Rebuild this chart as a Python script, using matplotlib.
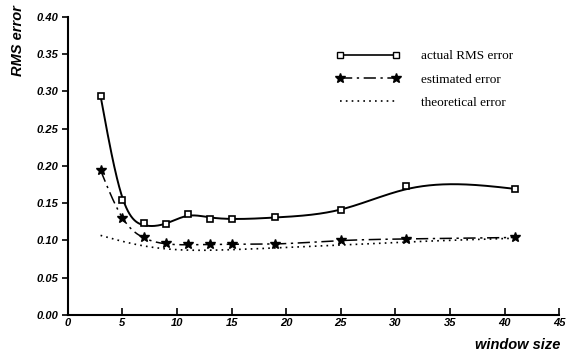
import numpy as np
import matplotlib.pyplot as plt

# window sizes and error values
window = [3, 5, 7, 9, 11, 13, 15, 19, 25, 31, 41]
actual_rms = [0.294, 0.154, 0.124, 0.122, 0.135, 0.129, 0.129, 0.131, 0.141, 0.173, 0.169]
estimated = [0.194, 0.130, 0.104, 0.096, 0.095, 0.095, 0.095, 0.095, 0.100, 0.102, 0.104]
theoretical = [0.108, 0.098, 0.092, 0.0885, 0.087, 0.087, 0.088, 0.090, 0.094, 0.098, 0.103]


def smooth_curve(x, y, lam, w=None, step=0.05):
    # weighted penalised least squares on a fine grid (discrete smoothing spline)
    xs = np.arange(x[0], x[-1] + step / 2, step)
    n = len(xs)
    w = np.ones(len(x)) if w is None else np.asarray(w, float)
    A = np.zeros((len(x), n))
    for i, xi in enumerate(x):
        A[i, int(round((xi - x[0]) / step))] = 1.0
    D = np.diff(np.eye(n), 2, axis=0) / step**2
    M = A.T @ (w[:, None] * A) + lam * step * D.T @ D
    f = np.linalg.solve(M, A.T @ (w * np.asarray(y, float)))
    return xs, f


fig = plt.figure(figsize=(5.7, 3.54), dpi=100)
ax = fig.add_axes([0.119, 0.110, 0.862, 0.843])

tick_font = dict(family='Liberation Sans', weight='bold', style='italic', size=8)
dashdot = (0, (8, 3, 1.5, 3))
dotted = (0, (1, 2.5))

w_actual = [100, 30, 12, 12, 12, 6, 6, 4, 3, 0.3, 6]
w_front = [200, 50, 10, 2, 1, 1, 1, 1, 1, 1, 1]
ax.plot(*smooth_curve(window, actual_rms, 3, w_actual), color='black', lw=1.4)
ax.plot(window, actual_rms, ls='none', marker='s', ms=5, mfc='white', mec='black', mew=1.2)
ax.plot(*smooth_curve(window, estimated, 2, w_front), color='black', lw=1.1, ls=dashdot)
ax.plot(window, estimated, ls='none', marker='*', ms=7.5, color='black')
ax.plot(*smooth_curve(window, theoretical, 5), color='black', lw=1.2, ls=dotted)

# legend entries
h1, = ax.plot([], [], color='black', lw=1.2, marker='s', ms=5, mfc='white', mec='black')
h2, = ax.plot([], [], color='black', lw=1.1, ls=dashdot, marker='*', ms=7.5)
h3, = ax.plot([], [], color='black', lw=1.2, ls=dotted)
ax.legend([h1, h2, h3], ['actual RMS error', 'estimated error', 'theoretical error'],
          loc='upper left', bbox_to_anchor=(0.590, 0.859), bbox_transform=fig.transFigure,
          frameon=False, numpoints=2, handlelength=4.8, handletextpad=1.6,
          labelspacing=0.85, borderpad=0, borderaxespad=0,
          prop=dict(family='Liberation Serif', size=9.5))

ax.set_xlim(0, 45)
ax.set_ylim(0, 0.40)
ax.set_xticks(np.arange(0, 46, 5))
ax.set_yticks(np.arange(0, 0.41, 0.05))
ax.set_yticklabels([f'{v:.2f}' for v in np.arange(0, 0.41, 0.05)])
for lab in ax.get_xticklabels() + ax.get_yticklabels():
    lab.set_fontproperties(tick_font)
ax.tick_params(axis='x', direction='in', length=5, width=1.2, pad=2)
ax.tick_params(axis='y', direction='out', length=4, width=1.2, pad=3)

for side in ('top', 'right'):
    ax.spines[side].set_visible(False)
for side in ('left', 'bottom'):
    ax.spines[side].set_linewidth(1.5)

fig.text(0.032, 0.885, 'RMS error', rotation=90, ha='center', va='center',
         family='Liberation Sans', weight='bold', style='italic', size=10.5)
fig.text(0.983, 0.025, 'window size', ha='right', va='center',
         family='Liberation Sans', weight='bold', style='italic', size=10.5)

fig.savefig('out.png', dpi=100)
